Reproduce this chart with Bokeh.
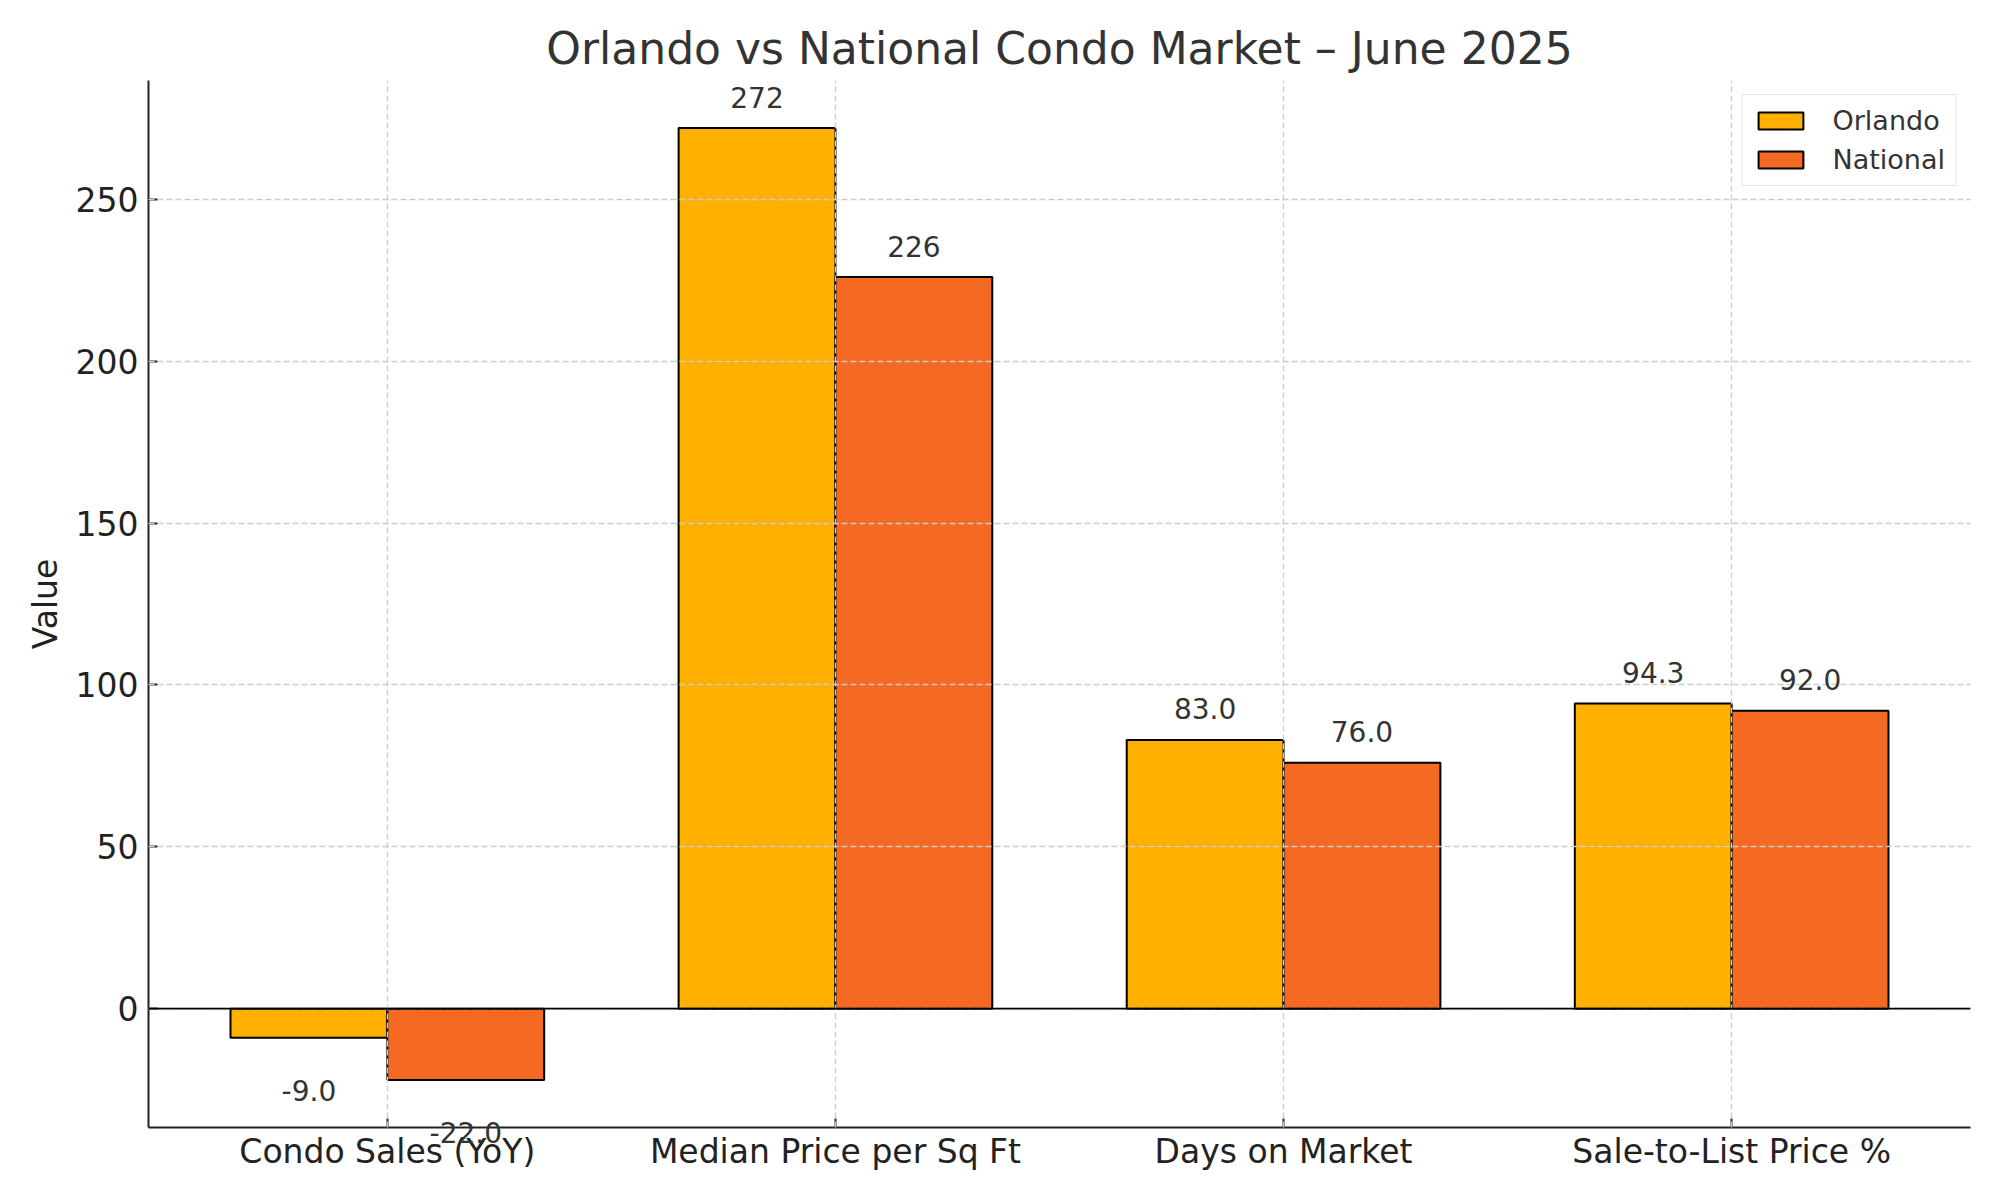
from bokeh.plotting import figure
from bokeh.models import ColumnDataSource, FactorRange, Range1d, FixedTicker, Span, Label
from bokeh.transform import dodge
from bokeh.embed import file_html
from bokeh.resources import INLINE

categories = ["Condo Sales (YoY)", "Median Price per Sq Ft", "Days on Market", "Sale-to-List Price %"]
orlando = [-9.0, 272, 83.0, 94.3]
national = [-22.0, 226, 76.0, 92.0]
orlando_labels = ["-9.0", "272", "83.0", "94.3"]
national_labels = ["-22.0", "226", "76.0", "92.0"]
y_ticks = [0, 50, 100, 150, 200, 250]

FONT = "DejaVu Sans"
C_ORL = "#FFB000"
C_NAT = "#F46A22"
BAR_W = 0.35

src = ColumnDataSource(dict(cat=categories, orlando=orlando, national=national))

p = figure(
    width=2000, height=1200,
    x_range=FactorRange(factors=categories, range_padding=0.033, range_padding_units="absolute"),
    y_range=Range1d(-36.7, 286.7),
    output_backend="svg", toolbar_location=None,
    min_border_left=148, min_border_right=30, min_border_top=80, min_border_bottom=73,
    title="Orlando vs National Condo Market \u2013 June 2025",
)
p.outline_line_color = None
p.background_fill_color = "white"
p.border_fill_color = "white"

p.vbar(x=dodge("cat", -BAR_W / 2, range=p.x_range), top="orlando", bottom=0, width=BAR_W,
       source=src, fill_color=C_ORL, line_color="black", line_width=2, legend_label="Orlando")
p.vbar(x=dodge("cat", BAR_W / 2, range=p.x_range), top="national", bottom=0, width=BAR_W,
       source=src, fill_color=C_NAT, line_color="black", line_width=2, legend_label="National")

# value labels (FactorRange: factor i is centred at i + 0.5)
FRAME_BOTTOM_VALUE = -36.7
for xo, vals, labs in [(-BAR_W / 2, orlando, orlando_labels), (BAR_W / 2, national, national_labels)]:
    for i, (v, t) in enumerate(zip(vals, labs)):
        lab = Label(
            x=i + 0.5 + xo, y=v, text=t, y_offset=(-53 if v < 0 else 31),
            text_align="center", text_baseline="alphabetic", text_font=FONT,
            text_font_size="28px", text_color="#333333", level="overlay",
        )
        # a label that would fall below the frame is placed in the lower panel (not clipped)
        p.add_layout(lab, "below" if v < -15 else "center")

# grids
for g in (p.xgrid, p.ygrid):
    g.grid_line_color = "#cccccc"
    g.grid_line_dash = "6 3"
    g.grid_line_width = 1.3
    g.level = "overlay"
p.ygrid.ticker = FixedTicker(ticks=y_ticks)

zero = Span(location=0, dimension="width", line_color="black", line_width=1.8, level="overlay")
p.add_layout(zero)

# axes
p.yaxis.ticker = FixedTicker(ticks=y_ticks)
p.yaxis.axis_label = "Value"
for ax in (p.xaxis, p.yaxis):
    ax.axis_line_width = 2
    ax.axis_line_color = "#222222"
    ax.major_tick_line_width = 2
    ax.major_tick_line_color = "#222222"
    ax.major_tick_in = 9
    ax.major_tick_out = 0
    ax.minor_tick_line_color = None
    ax.major_label_text_font = FONT
    ax.major_label_text_font_size = "33px"
    ax.major_label_text_color = "#222222"
    ax.axis_label_text_font = FONT
    ax.axis_label_text_font_size = "33px"
    ax.axis_label_text_font_style = "normal"
    ax.axis_label_text_color = "#222222"
p.yaxis.major_label_standoff = 10
p.yaxis.axis_label_standoff = 8
p.xaxis.major_label_standoff = 4

# title
p.title.align = "center"
p.title.text_font = FONT
p.title.text_font_size = "44px"
p.title.text_font_style = "normal"
p.title.text_color = "#333333"
p.title.standoff = 14

# legend
lg = p.legend[0]
lg.location = "top_right"
lg.margin = 14
lg.border_line_color = "#cccccc"
lg.border_line_width = 1.5
lg.background_fill_alpha = 0.85
lg.label_text_font = FONT
lg.label_text_font_size = "27px"
lg.label_text_color = "#333333"
lg.glyph_width = 56
lg.glyph_height = 21
lg.padding = 10
lg.label_standoff = 24
lg.spacing = 8

open("out.html", "w").write(file_html(p, INLINE))
